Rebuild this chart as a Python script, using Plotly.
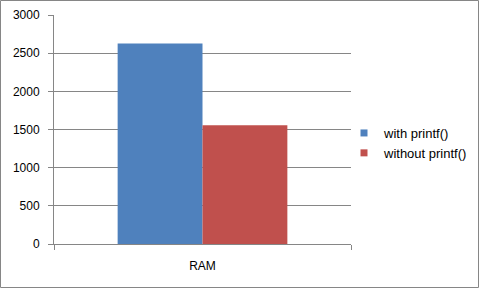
import plotly.graph_objects as go

categories = ["RAM"]
with_printf = [2627]
without_printf = [1555]
series_names = ["with printf()", "without printf()"]
series_colors = ["#4F81BD", "#C0504D"]
y_ticks = [0, 500, 1000, 1500, 2000, 2500, 3000]

GRID = "#868686"
FONT = dict(family="Liberation Sans, Arial, sans-serif", size=12, color="#000000")

fig = go.Figure()
for name, vals, col in zip(series_names, [with_printf, without_printf], series_colors):
    fig.add_trace(go.Bar(x=categories, y=vals, name=name, showlegend=False,
                         marker=dict(color=col, line=dict(width=0))))
# legend entries (small square keys as in the original)
for name, col in zip(series_names, series_colors):
    fig.add_trace(go.Scatter(x=[None], y=[None], name=name, mode="markers",
                             marker=dict(symbol="square", size=7, color=col)))

L, R, T, B = 54, 130, 15, 45
W, H = 481, 289
pw, ph = W - L - R, H - T - B

fig.update_layout(
    width=W, height=H,
    margin=dict(l=L, r=R, t=T, b=B, autoexpand=False),
    paper_bgcolor="white", plot_bgcolor="white",
    barmode="group", bargap=1.5 / 3.5, bargroupgap=0,
    font=FONT,
    showlegend=True,
    legend=dict(x=(344 - L) / pw, y=(244 - 143) / ph, xanchor="left", yanchor="middle",
                font=dict(family=FONT["family"], size=13, color="#000000"),
                tracegroupgap=0, itemwidth=30, bgcolor="rgba(0,0,0,0)"),
    xaxis=dict(type="category", tickson="boundaries", ticks="outside", ticklen=5,
               tickcolor=GRID, showline=True, linecolor=GRID, linewidth=1,
               showgrid=False, range=[-0.5, 0.5], fixedrange=True,
               ticklabelstandoff=11),
    yaxis=dict(range=[0, 3000], tickvals=y_ticks, ticks="outside", ticklen=5,
               tickcolor=GRID, showline=True, linecolor=GRID, linewidth=1,
               showgrid=True, gridcolor=GRID, gridwidth=1, zeroline=False,
               ticklabelstandoff=6),
    shapes=[dict(type="rect", xref="paper", yref="paper",
                 x0=(0.5 - L) / pw, x1=(478.5 - L) / pw,
                 y0=(H - B - 287.5) / ph, y1=(H - B - 0.5) / ph,
                 line=dict(color=GRID, width=1), fillcolor="rgba(0,0,0,0)", layer="below")],
)

fig.write_html("out.html")
